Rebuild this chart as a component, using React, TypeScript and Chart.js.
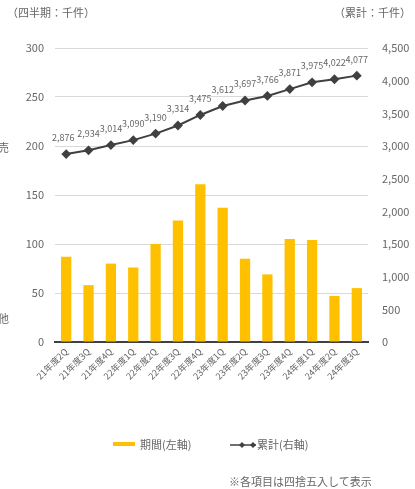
import React, { useEffect, useRef } from "react";
import { Chart, registerables } from "chart.js";

Chart.register(...registerables);

const categories = [
  "21年度2Q", "21年度3Q", "21年度4Q", "22年度1Q", "22年度2Q", "22年度3Q", "22年度4Q",
  "23年度1Q", "23年度2Q", "23年度3Q", "23年度4Q", "24年度1Q", "24年度2Q", "24年度3Q",
];
const periodValues = [87, 58, 80, 76, 100, 124, 161, 137, 85, 69, 105, 104, 47, 55];
const cumulativeValues = [2876, 2934, 3014, 3090, 3190, 3314, 3475, 3612, 3697, 3766, 3871, 3975, 4022, 4077];
const leftTicks = [0, 50, 100, 150, 200, 250, 300];
const rightTicks = [0, 500, 1000, 1500, 2000, 2500, 3000, 3500, 4000, 4500];

const FONT = "'Noto Sans CJK JP', 'Noto Sans', sans-serif";
const GREY = "#666666";
const LINE = "#404040";
const BAR = "#FFC000";

const labelPlugin = {
  id: "lineLabels",
  afterDatasetsDraw(chart: any) {
    const meta = chart.getDatasetMeta(1);
    const ctx = chart.ctx;
    ctx.save();
    ctx.font = `9px ${FONT}`;
    ctx.fillStyle = GREY;
    ctx.textAlign = "center";
    ctx.textBaseline = "bottom";
    meta.data.forEach((pt: any, i: number) => {
      const v = cumulativeValues[i];
      const dx = i === 0 ? -3 : 0;
      ctx.fillText(v.toLocaleString("en-US"), pt.x + dx, pt.y - 12);
    });
    ctx.restore();
  },
};

export default function App() {
  const ref = useRef<HTMLCanvasElement>(null);
  useEffect(() => {
    if (!ref.current) return;
    const chart = new Chart(ref.current, {
      type: "bar",
      data: {
        labels: categories,
        datasets: [
          {
            type: "bar",
            label: "期間(左軸)",
            data: periodValues,
            backgroundColor: BAR,
            yAxisID: "y",
            categoryPercentage: 1,
            barPercentage: 0.46,
            order: 2,
          },
          {
            type: "line",
            label: "累計(右軸)",
            data: cumulativeValues,
            borderColor: LINE,
            backgroundColor: LINE,
            borderWidth: 2,
            pointStyle: "rectRot",
            pointRadius: 3.5,
            pointBackgroundColor: LINE,
            pointBorderColor: LINE,
            yAxisID: "y1",
            order: 1,
          } as any,
        ],
      },
      options: {
        animation: false,
        responsive: false,
        maintainAspectRatio: false,
        layout: { padding: { top: 48, bottom: 0, left: 0, right: 0 } },
        plugins: {
          legend: { display: false },
          tooltip: { enabled: false },
        },
        scales: {
          x: {
            grid: { display: false, drawTicks: false },
            border: { display: true, color: LINE, width: 2 },
            ticks: {
              color: GREY,
              font: { family: FONT, size: 9 },
              minRotation: 45,
              maxRotation: 45,
              padding: 4,
              autoSkip: false,
            },
            afterFit: (s: any) => {
              s.height = 147;
            },
          },
          y: {
            position: "left",
            min: 0,
            max: 300,
            afterBuildTicks: (s: any) => {
              s.ticks = leftTicks.map((v) => ({ value: v }));
            },
            grid: { color: "#d9d9d9", drawTicks: false, lineWidth: 1 },
            border: { display: false },
            ticks: {
              color: GREY,
              font: { family: FONT, size: 11 },
              padding: 11,
            },
            afterFit: (s: any) => {
              s.width = 55;
            },
          },
          y1: {
            position: "right",
            min: 0,
            max: 4500,
            afterBuildTicks: (s: any) => {
              s.ticks = rightTicks.map((v) => ({ value: v }));
            },
            grid: { display: false, drawTicks: false },
            border: { display: false },
            ticks: {
              color: GREY,
              font: { family: FONT, size: 11 },
              padding: 14,
              callback: (v: any) => Number(v).toLocaleString("en-US"),
            },
            afterFit: (s: any) => {
              s.width = 47;
            },
          },
        },
      },
      plugins: [labelPlugin],
    });
    return () => chart.destroy();
  }, []);

  const txt: React.CSSProperties = {
    position: "absolute",
    fontFamily: FONT,
    fontSize: 11,
    color: GREY,
    whiteSpace: "nowrap",
    lineHeight: "14px",
  };

  return (
    <div style={{ position: "fixed", left: 0, top: 0, width: 415, height: 489, background: "#fff" }}>
      <canvas ref={ref} width={415} height={489} style={{ position: "absolute", left: 0, top: 0, width: 415, height: 489 }} />
      <div style={{ ...txt, left: 7, top: 5 }}>（四半期：千件）</div>
      <div style={{ ...txt, right: 4, top: 5 }}>（累計：千件）</div>
      <div style={{ ...txt, left: -2, top: 140 }}>売</div>
      <div style={{ ...txt, left: -2, top: 311 }}>他</div>
      <div style={{ position: "absolute", left: 113, top: 442, width: 22, height: 4, background: BAR }} />
      <div style={{ ...txt, left: 140, top: 437 }}>期間(左軸)</div>
      <svg style={{ position: "absolute", left: 229, top: 439 }} width={28} height={12}>
        <line x1={1} y1={6} x2={27} y2={6} stroke={LINE} strokeWidth={1.5} />
        <polygon points="13,3 16,6 13,9 10,6" fill={LINE} />
        <polygon points="24,3 27,6 24,9 21,6" fill={LINE} />
      </svg>
      <div style={{ ...txt, left: 257, top: 437 }}>累計(右軸)</div>
      <div style={{ ...txt, left: 229, top: 474 }}>※各項目は四捨五入して表示</div>
    </div>
  );
}
